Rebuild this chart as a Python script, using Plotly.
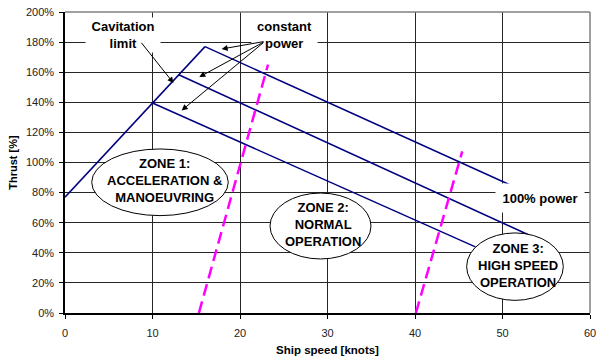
import plotly.graph_objects as go

# ---- data ----
speed_ticks = [0, 10, 20, 30, 40, 50, 60]
thrust_ticks = [0, 20, 40, 60, 80, 100, 120, 140, 160, 180, 200]

cavitation_speed = [0.0, 16.0]
cavitation_thrust = [77.0, 177.0]

power_low_speed = [10.0, 46.9]
power_low_thrust = [139.5, 43.9]
power_mid_speed = [13.0, 52.95]
power_mid_thrust = [158.3, 52.0]
power_full_speed = [16.0, 51.4]
power_full_thrust = [177.0, 83.7]

boundary_a_speed = [15.3, 23.2]
boundary_a_thrust = [0.0, 165.0]
boundary_b_speed = [40.1, 45.4]
boundary_b_thrust = [0.0, 107.4]

zone_labels = ["ZONE 1:<br>ACCELERATION &<br>MANOEUVRING",
               "ZONE 2:<br>NORMAL<br>OPERATION",
               "ZONE 3:<br>HIGH SPEED<br>OPERATION"]
zone_speed_range = [(3.05, 18.66), (23.43, 34.97), (45.9, 56.95)]
zone_thrust_range = [(64.7, 109.0), (35.9, 79.7), (8.4, 53.2)]
zone_text_pos = [(11.4, 87.9), (29.5, 58.7), (51.8, 31.4)]

cavitation_arrow_tail = (8.6, 180.5)
cavitation_arrow_head = (12.4, 152.8)
power_arrow_tail = (22.85, 180.5)
power_arrow_heads = [(17.9, 175.4), (15.35, 156.8), (13.33, 134.6)]

NAVY = "#000080"
MAGENTA = "#FF00FF"
GRID = "#262626"
FONT = "Liberation Sans, Arial, sans-serif"

fig = go.Figure()

for xs, ys in [(cavitation_speed, cavitation_thrust),
               (power_low_speed, power_low_thrust),
               (power_mid_speed, power_mid_thrust),
               (power_full_speed, power_full_thrust)]:
    fig.add_trace(go.Scatter(x=xs, y=ys, mode="lines",
                             line=dict(color=NAVY, width=1.5),
                             showlegend=False, hoverinfo="skip"))

for xs, ys in [(boundary_a_speed, boundary_a_thrust),
               (boundary_b_speed, boundary_b_thrust)]:
    fig.add_trace(go.Scatter(x=xs, y=ys, mode="lines",
                             line=dict(color=MAGENTA, width=2.5, dash="12px,6px"),
                             showlegend=False, hoverinfo="skip"))

shapes = []
for (x0, x1), (y0, y1) in zip(zone_speed_range, zone_thrust_range):
    shapes.append(dict(type="circle", xref="x", yref="y", x0=x0, x1=x1, y0=y0, y1=y1,
                       fillcolor="white", line=dict(color="black", width=1), layer="above"))
# plot-area border (top and right, grey)
shapes.append(dict(type="line", xref="paper", yref="paper", x0=0, x1=1, y0=1, y1=1,
                   line=dict(color="#808080", width=1.5), layer="above"))
shapes.append(dict(type="line", xref="paper", yref="paper", x0=1, x1=1, y0=0, y1=1,
                   line=dict(color="#808080", width=1.5), layer="above"))

bold = dict(family=FONT, size=13, color="black")
annotations = []
# text boxes
annotations.append(dict(x=6.6, y=184.5, xref="x", yref="y", text="<b>Cavitation<br>limit</b>",
                        showarrow=False, font=bold, bgcolor="white", width=72, height=32,
                        align="center"))
annotations.append(dict(x=25.1, y=184.5, xref="x", yref="y", text="<b>constant<br>power</b>",
                        showarrow=False, font=bold, bgcolor="white", width=63, height=32,
                        align="center"))
annotations.append(dict(x=54.3, y=76.6, xref="x", yref="y", text="<b>100% power</b>",
                        showarrow=False, font=bold, bgcolor="white", width=86, height=26))
for txt, (tx, ty) in zip(zone_labels, zone_text_pos):
    annotations.append(dict(x=tx, y=ty, xref="x", yref="y", text="<b>" + txt + "</b>",
                            showarrow=False, font=bold, align="center"))
# arrows
annotations.append(dict(x=cavitation_arrow_head[0], y=cavitation_arrow_head[1],
                        ax=cavitation_arrow_tail[0], ay=cavitation_arrow_tail[1],
                        xref="x", yref="y", axref="x", ayref="y", text="",
                        showarrow=True, arrowhead=2, arrowsize=1.2, arrowwidth=1,
                        arrowcolor="black"))
for hx, hy in power_arrow_heads:
    annotations.append(dict(x=hx, y=hy, ax=power_arrow_tail[0], ay=power_arrow_tail[1],
                            xref="x", yref="y", axref="x", ayref="y", text="",
                            showarrow=True, arrowhead=2, arrowsize=1.2, arrowwidth=1,
                            arrowcolor="black"))

fig.update_layout(
    width=596, height=363,
    margin=dict(l=65, r=6, t=12, b=50, autoexpand=False),
    paper_bgcolor="white", plot_bgcolor="white",
    font=dict(family=FONT, size=11, color="black"),
    shapes=shapes, annotations=annotations,
    xaxis=dict(range=[0, 60], tickvals=speed_ticks, ticktext=[str(v) for v in speed_ticks],
               showgrid=True, gridcolor=GRID, gridwidth=1,
               showline=True, linecolor="black", linewidth=1.5,
               ticks="outside", ticklen=4, tickcolor="black",
               ticklabelstandoff=5, ticklabeloverflow="allow", zeroline=False,
               automargin=False,
               tickfont=dict(family=FONT, size=11, color="#222"),
               title=dict(text="<b>Ship speed [knots]</b>", standoff=8,
                          font=dict(family=FONT, size=11.5, color="black"))),
    yaxis=dict(range=[0, 200], tickvals=thrust_ticks,
               ticktext=[f"{v}%" for v in thrust_ticks],
               showgrid=True, gridcolor=GRID, gridwidth=1,
               showline=True, linecolor="black", linewidth=1.5,
               ticks="outside", ticklen=4, tickcolor="black",
               ticklabelstandoff=3, ticklabeloverflow="allow", zeroline=False,
               automargin=False,
               tickfont=dict(family=FONT, size=11, color="#222"),
               title=dict(text="<b>Thrust [%]</b>", standoff=6,
                          font=dict(family=FONT, size=11, color="black"))),
)

fig.write_html("out.html")
